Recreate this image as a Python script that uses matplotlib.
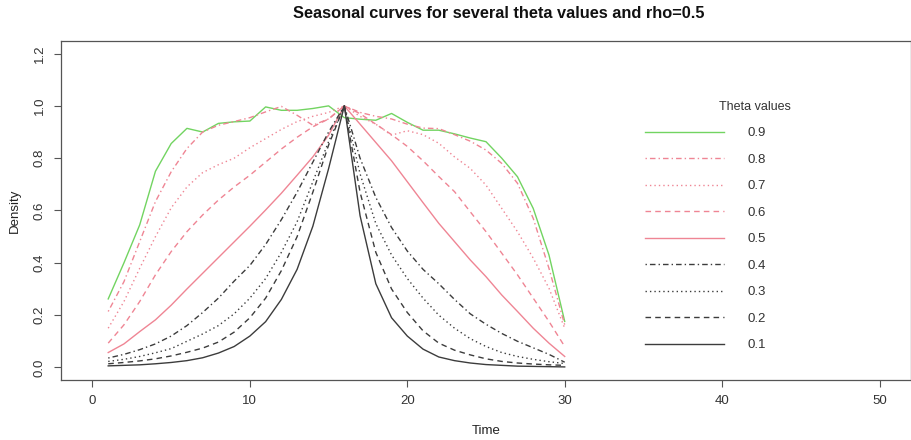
import numpy as np
import matplotlib
matplotlib.use("Agg")
import matplotlib.pyplot as plt

plt.rcParams["font.family"] = ["Liberation Sans", "DejaVu Sans"]

time = list(range(1, 31))

theta_labels = ["0.9", "0.8", "0.7", "0.6", "0.5", "0.4", "0.3", "0.2", "0.1"]

# density values, t = 1..30
dens_09 = [0.262, 0.40, 0.545, 0.75, 0.856, 0.914, 0.90, 0.933, 0.939, 0.942,
           0.996, 0.983, 0.983, 0.99, 1.0, 0.955, 0.949, 0.945, 0.971, 0.937,
           0.907, 0.907, 0.893, 0.877, 0.863, 0.80, 0.729, 0.608, 0.43, 0.176]
dens_08 = [0.214, 0.328, 0.481, 0.634, 0.748, 0.837, 0.90, 0.926, 0.94, 0.955,
           0.977, 0.998, 0.964, 0.926, 0.95, 1.0, 0.975, 0.96, 0.95, 0.93,
           0.915, 0.913, 0.89, 0.865, 0.831, 0.78, 0.704, 0.57, 0.379, 0.163]
dens_07 = [0.15, 0.252, 0.379, 0.50, 0.61, 0.69, 0.745, 0.775, 0.80, 0.84,
           0.875, 0.91, 0.94, 0.96, 0.975, 1.0, 0.96, 0.93, 0.888, 0.905,
           0.89, 0.857, 0.805, 0.761, 0.697, 0.608, 0.519, 0.418, 0.303, 0.15]
dens_06 = [0.093, 0.163, 0.252, 0.354, 0.443, 0.519, 0.583, 0.64, 0.69, 0.735,
           0.785, 0.835, 0.88, 0.92, 0.95, 1.0, 0.97, 0.93, 0.89, 0.845,
           0.79, 0.73, 0.672, 0.595, 0.519, 0.437, 0.354, 0.265, 0.176, 0.08]
dens_05 = [0.057, 0.09, 0.137, 0.182, 0.238, 0.30, 0.36, 0.42, 0.48, 0.54,
           0.602, 0.666, 0.735, 0.805, 0.888, 1.0, 0.93, 0.86, 0.79, 0.71,
           0.63, 0.551, 0.481, 0.411, 0.347, 0.277, 0.214, 0.15, 0.093, 0.042]
dens_04 = [0.036, 0.05, 0.068, 0.09, 0.12, 0.16, 0.21, 0.265, 0.33, 0.39,
           0.47, 0.565, 0.67, 0.785, 0.90, 1.0, 0.80, 0.65, 0.535, 0.445,
           0.375, 0.32, 0.26, 0.205, 0.165, 0.13, 0.10, 0.075, 0.05, 0.02]
dens_03 = [0.023, 0.031, 0.042, 0.056, 0.072, 0.1, 0.128, 0.16, 0.205, 0.265,
           0.34, 0.44, 0.557, 0.71, 0.863, 1.0, 0.74, 0.55, 0.43, 0.34,
           0.265, 0.20, 0.15, 0.11, 0.08, 0.057, 0.042, 0.031, 0.022, 0.015]
dens_02 = [0.014, 0.019, 0.025, 0.033, 0.044, 0.058, 0.074, 0.097, 0.135, 0.19,
           0.265, 0.37, 0.50, 0.67, 0.85, 1.0, 0.67, 0.44, 0.30, 0.21,
           0.14, 0.093, 0.066, 0.048, 0.033, 0.023, 0.017, 0.013, 0.01, 0.008]
dens_01 = [0.006, 0.008, 0.01, 0.014, 0.019, 0.026, 0.037, 0.055, 0.08, 0.12,
           0.175, 0.26, 0.375, 0.54, 0.76, 1.0, 0.58, 0.32, 0.19, 0.12,
           0.07, 0.04, 0.026, 0.017, 0.011, 0.008, 0.005, 0.004, 0.003, 0.002]

series = [dens_09, dens_08, dens_07, dens_06, dens_05,
          dens_04, dens_03, dens_02, dens_01]

BLACK = "#3c3c3c"
PINK = "#ef8594"
GREEN = "#72d461"

solid = "-"
dashed = (0, (4, 3))
dotted = (0, (1, 2.2))
dotdash = (0, (1, 2.2, 4, 2.2))

styles = [
    (GREEN, solid),
    (PINK, dotdash),
    (PINK, dotted),
    (PINK, dashed),
    (PINK, solid),
    (BLACK, dotdash),
    (BLACK, dotted),
    (BLACK, dashed),
    (BLACK, solid),
]

fig = plt.figure(figsize=(9.12, 4.40), dpi=100)
ax = fig.add_axes([61 / 912, 60 / 440, 850 / 912, 339 / 440])

for vals, (col, ls), lab in zip(series, styles, theta_labels):
    ax.plot(time, vals, color=col, linestyle=ls, linewidth=1.0, label=lab)

ax.set_xlim(-2, 52)
ax.set_ylim(-0.048, 1.248)
ax.set_xticks([0, 10, 20, 30, 40, 50])
ax.set_yticks([0.0, 0.2, 0.4, 0.6, 0.8, 1.0, 1.2])
ax.set_yticklabels(["0.0", "0.2", "0.4", "0.6", "0.8", "1.0", "1.2"],
                   rotation=90, va="center")
ax.tick_params(direction="out", length=5, width=0.8, colors="#555555",
               labelcolor="#333333", labelsize=9.5, pad=6)
for sp in ax.spines.values():
    sp.set_color("#555555")
    sp.set_linewidth(0.9)

ax.set_xlabel("Time", fontsize=9.5, color="#222222", labelpad=13)
ax.set_ylabel("Density", fontsize=9.5, color="#222222", labelpad=9)

fig.text(499 / 912, 1 - 14 / 440,
         "Seasonal curves for several theta values and rho=0.5",
         ha="center", va="center", fontsize=11.8, fontweight="bold",
         color="#111111")

leg = ax.legend(loc="upper left", bbox_to_anchor=(645 / 912, 1 - 127 / 440),
                bbox_transform=fig.transFigure, frameon=False, fontsize=9.5,
                handlelength=6.0, handletextpad=1.8, labelspacing=1.08,
                borderpad=0, borderaxespad=0)
for t in leg.get_texts():
    t.set_color("#333333")
fig.text(755 / 912, 1 - 107 / 440, "Theta values", ha="center", va="center",
         fontsize=9, color="#333333")

fig.savefig("out.png", dpi=100)
